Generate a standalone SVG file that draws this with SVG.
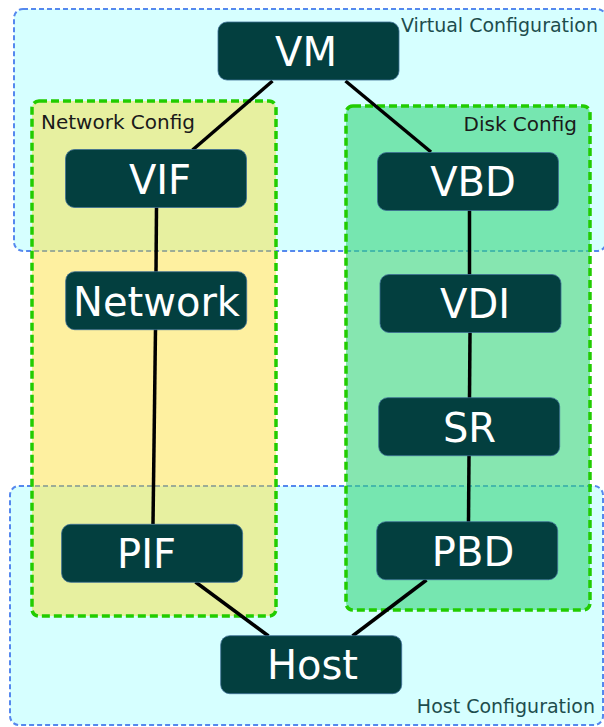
<svg xmlns="http://www.w3.org/2000/svg" width="604" height="727" viewBox="0 0 604 727">
<style>
.area{fill:#d6ffff;stroke:#5588ee;stroke-width:2;stroke-dasharray:5,3}
.grp{stroke:#22cc00;stroke-width:3.5;stroke-dasharray:8,4}
.node rect{fill:#033f3f;stroke:#3d6f95;stroke-width:0.8}
.node text{font-family:"DejaVu Sans",sans-serif;font-size:40px;fill:#ffffff;text-anchor:middle}
.alabel{font-family:"DejaVu Sans",sans-serif;font-size:19px;fill:#1d4d4d}
.glabel{font-family:"DejaVu Sans",sans-serif;font-size:20px;fill:#1a1a1a}
.conn line{stroke:#000;stroke-width:3.5;stroke-linecap:butt}
</style>
<rect width="604" height="727" fill="#ffffff"/>
<g id="virtual-configuration">
<rect class="area" x="14" y="9" width="592" height="242" rx="9"/>
<text class="alabel" x="598" y="32" text-anchor="end">Virtual Configuration</text>
</g>
<g id="host-configuration">
<rect class="area" x="10" y="486" width="593" height="239" rx="9"/>
<text class="alabel" x="595" y="713" text-anchor="end">Host Configuration</text>
</g>
<g id="network-config">
<rect class="grp" x="32" y="101" width="244" height="515" rx="7" fill="#fcdc22" fill-opacity="0.43"/>
<text class="glabel" x="41" y="129">Network Config</text>
</g>
<g id="disk-config">
<rect class="grp" x="346" y="106" width="244" height="504" rx="7" fill="#3cd780" fill-opacity="0.62"/>
<text class="glabel" x="577" y="131" text-anchor="end">Disk Config</text>
</g>
<g id="connectors" class="conn">
<line x1="272.5" y1="81" x2="192.5" y2="150"/>
<line x1="345.5" y1="81" x2="431" y2="152"/>
<line x1="156.5" y1="207" x2="156" y2="272"/>
<line x1="155.5" y1="329" x2="153" y2="524"/>
<line x1="469.5" y1="210" x2="469.5" y2="275"/>
<line x1="470" y1="332" x2="469.5" y2="398"/>
<line x1="469" y1="455" x2="468.5" y2="522"/>
<line x1="195.5" y1="582" x2="268.5" y2="636"/>
<line x1="426.5" y1="580" x2="352.5" y2="636"/>
</g>
<g id="VM" class="node"><rect x="218" y="22" width="181" height="58" rx="9"/><text x="306" y="66">VM</text></g>
<g id="VIF" class="node"><rect x="65.5" y="149.5" width="181" height="58" rx="9"/><text x="160" y="194">VIF</text></g>
<g id="VBD" class="node"><rect x="377.5" y="152.5" width="181" height="58" rx="9"/><text x="473" y="196">VBD</text></g>
<g id="Network" class="node"><rect x="65.7" y="271.7" width="181" height="58" rx="9"/><text x="156.5" y="316">Network</text></g>
<g id="VDI" class="node"><rect x="380" y="274.5" width="181" height="58" rx="9"/><text x="475" y="318">VDI</text></g>
<g id="SR" class="node"><rect x="378.7" y="397.7" width="181" height="58" rx="9"/><text x="469.5" y="441.5">SR</text></g>
<g id="PIF" class="node"><rect x="61.6" y="524.3" width="181" height="58" rx="9"/><text x="146.5" y="568">PIF</text></g>
<g id="PBD" class="node"><rect x="376.7" y="521.7" width="181" height="58" rx="9"/><text x="473" y="565.5">PBD</text></g>
<g id="Host" class="node"><rect x="220.7" y="635.7" width="181" height="58" rx="9"/><text x="312.5" y="679">Host</text></g>
</svg>
